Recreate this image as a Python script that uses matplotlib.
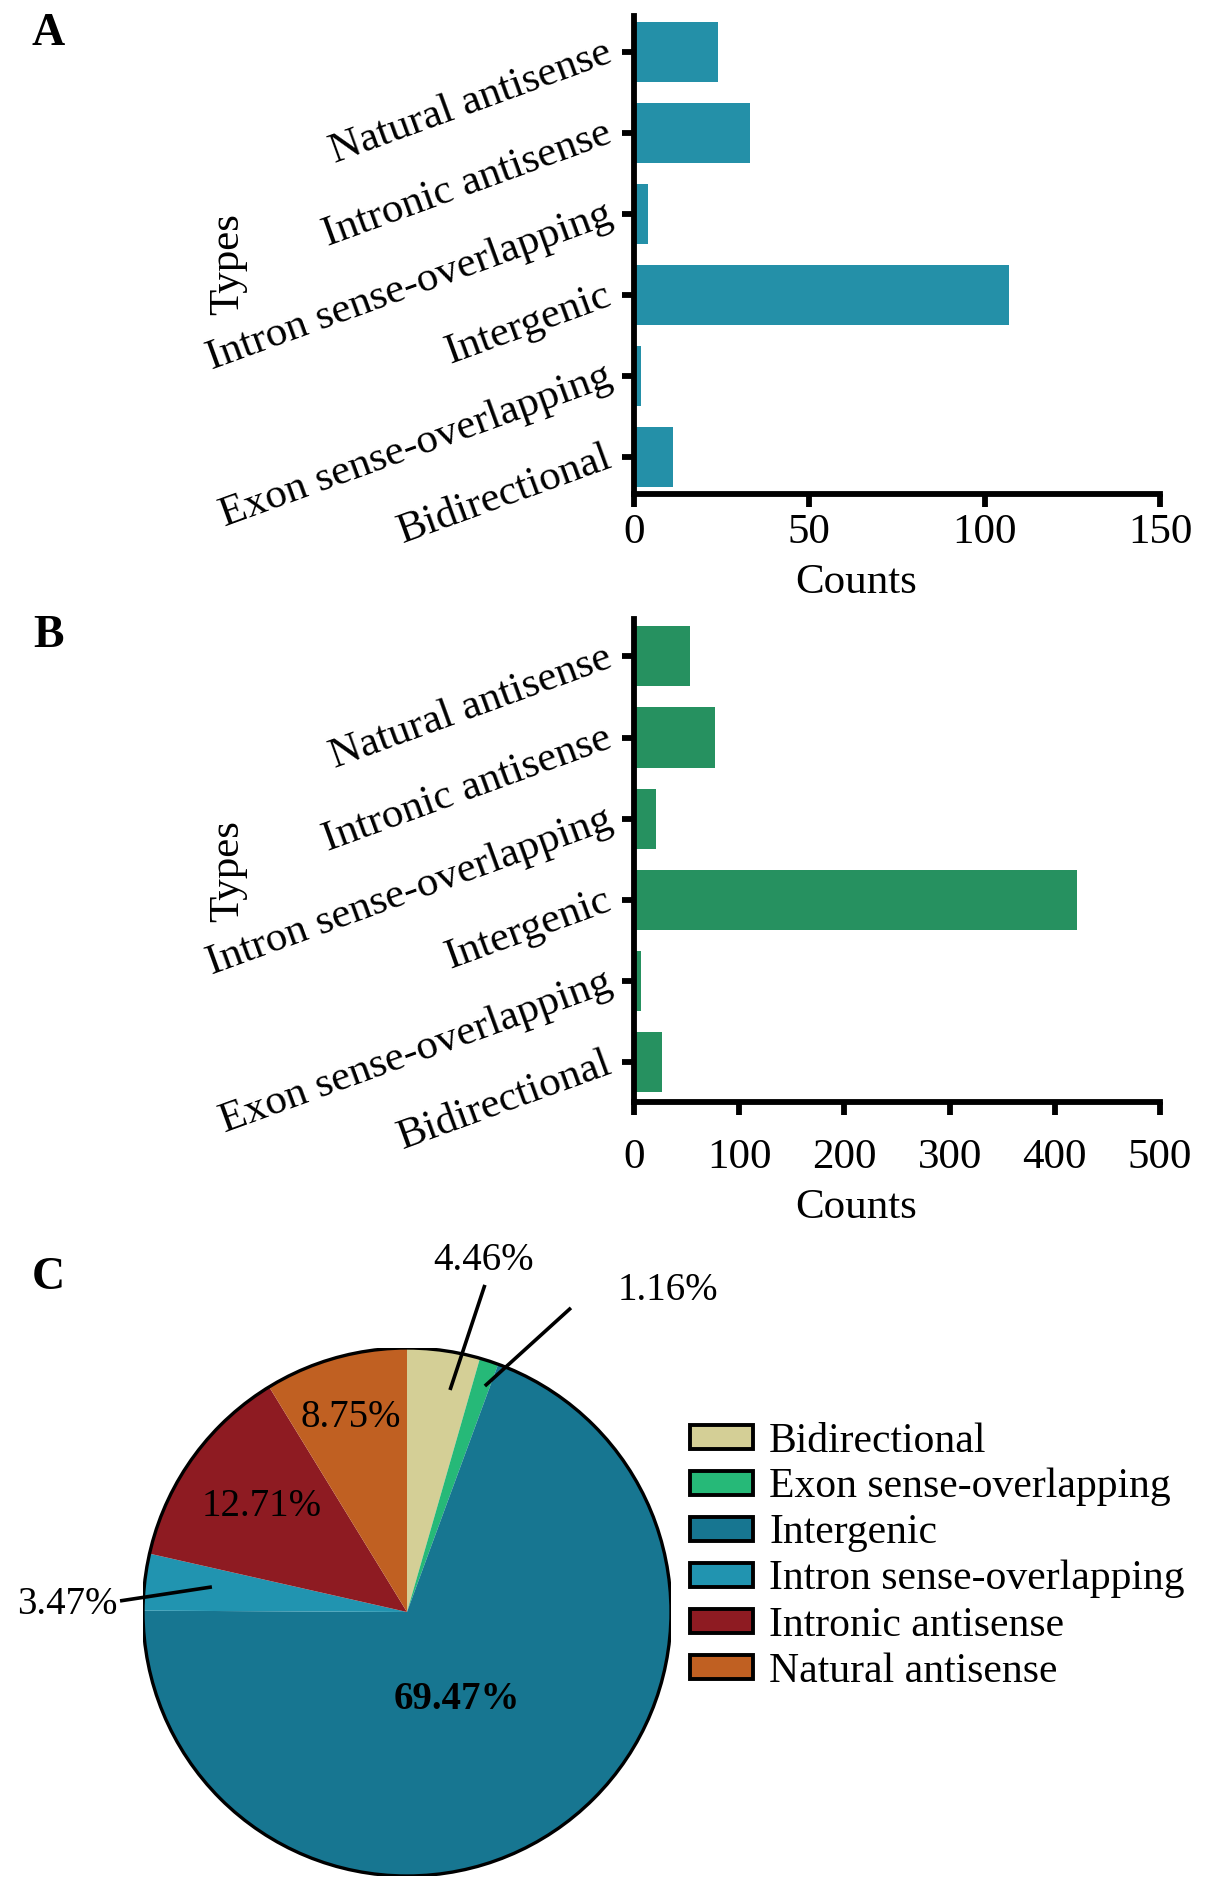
import matplotlib
matplotlib.use('Agg')
import matplotlib.pyplot as plt
import numpy as np
from matplotlib.patches import Circle, Patch

plt.rcParams['font.family'] = ['Liberation Serif', 'DejaVu Serif']

# ---------------- data ----------------
categories = ["Bidirectional", "Exon sense-overlapping", "Intergenic",
              "Intron sense-overlapping", "Intronic antisense", "Natural antisense"]
counts_a = [11, 2, 107, 4, 33, 24]
counts_b = [27, 7, 421, 21, 77, 53]
xticks_a = [0, 50, 100, 150]
xticks_b = [0, 100, 200, 300, 400, 500]
color_a = "#2490a8"
color_b = "#269160"
pie_colors = ["#d4cf96", "#26b978", "#177691", "#2194b0", "#8e1b22", "#c06022"]

# ---------------- layout ----------------
W, H = 1205, 1887
fig = plt.figure(figsize=(W / 100, H / 100), dpi=100)


def px_axes(left, top, right, bottom):
    return fig.add_axes([left / W, 1 - bottom / H, (right - left) / W, (bottom - top) / H])


def bar_panel(ax, vals, color, ticks, ylim, xpad):
    y = np.arange(len(categories))
    ax.barh(y, vals, height=0.74, color=color, zorder=1)
    ax.set_xlim(ticks[0], ticks[-1])
    ax.set_ylim(*ylim)
    ax.set_xticks(ticks)
    ax.set_yticks(y)
    ax.set_yticklabels(categories, rotation=20, ha='right', va='center',
                       rotation_mode='anchor')
    for s in ['top', 'right']:
        ax.spines[s].set_visible(False)
    for s in ['left', 'bottom']:
        ax.spines[s].set_linewidth(4.2)
        ax.spines[s].set_capstyle('projecting')
    ax.tick_params(axis='both', width=4.2, length=9, labelsize=31)
    ax.tick_params(axis='x', pad=xpad)
    ax.tick_params(axis='y', pad=8)


axA = px_axes(634, 16, 1160, 494)
bar_panel(axA, counts_a, color_a, xticks_a, (-0.46, 5.44), 5)
axB = px_axes(634, 619, 1160, 1102)
bar_panel(axB, counts_b, color_b, xticks_b, (-0.49, 5.46), 17)

fs_lab = 31
fig.text(228 / W, 1 - 264 / H, "Types", rotation=90, ha='center', va='center', fontsize=fs_lab)
fig.text(228 / W, 1 - 871 / H, "Types", rotation=90, ha='center', va='center', fontsize=fs_lab)
fig.text(856 / W, 1 - 583 / H, "Counts", ha='center', va='center', fontsize=fs_lab)
fig.text(856 / W, 1 - 1208 / H, "Counts", ha='center', va='center', fontsize=fs_lab)

for letter, yy in [("A", 34), ("B", 636), ("C", 1278)]:
    fig.text(48 / W, 1 - yy / H, letter, ha='center', va='center', fontsize=33, fontweight='bold')

# ---------------- pie ----------------
cx, cy, r = 407, 1612, 264
axC = px_axes(cx - r, cy - r, cx + r, cy + r)
wedges, _ = axC.pie(counts_b, colors=pie_colors, startangle=90, counterclock=False,
                    radius=1, wedgeprops=dict(linewidth=0))
axC.add_patch(Circle((0, 0), 1, fill=False, lw=2.4, ec='black', zorder=5))
axC.set_xlim(-1, 1)
axC.set_ylim(-1, 1)
axC.set_axis_off()

total = sum(counts_b)
pct_labels = [f"{100 * v / total:.2f}%" for v in counts_b]

# label layout (data units of pie axes): text position, optional leader line
label_pos = [(0.29, 1.33), (0.99, 1.216), (0.189, -0.33), (-1.288, 0.027),
             (-0.549, 0.40), (-0.212, 0.735)]
leaders = {0: ((0.163, 0.841), (0.295, 1.239)),
           1: ((0.295, 0.856), (0.621, 1.152)),
           3: ((-0.739, 0.095), (-1.087, 0.042))}
for i, (lab, (tx, ty)) in enumerate(zip(pct_labels, label_pos)):
    axC.text(tx, ty, lab, ha='center', va='center', fontsize=28,
             fontweight='bold' if i == 2 else 'normal', clip_on=False, zorder=6)
    if i in leaders:
        (x0, y0), (x1, y1) = leaders[i]
        axC.plot([x0, x1], [y0, y1], color='black', lw=2.6, clip_on=False, zorder=6,
                 solid_capstyle='butt')

handles = [Patch(facecolor=c, edgecolor='black', linewidth=2.8) for c in pie_colors]
fig.legend(handles, categories, loc='upper left', bbox_to_anchor=(690 / W, 1 - 1422 / H),
           frameon=False, fontsize=30, handlelength=1.5, handleheight=0.5,
           handletextpad=0.4, labelspacing=0.18, borderaxespad=0, borderpad=0)

fig.savefig("out.png", dpi=100)
